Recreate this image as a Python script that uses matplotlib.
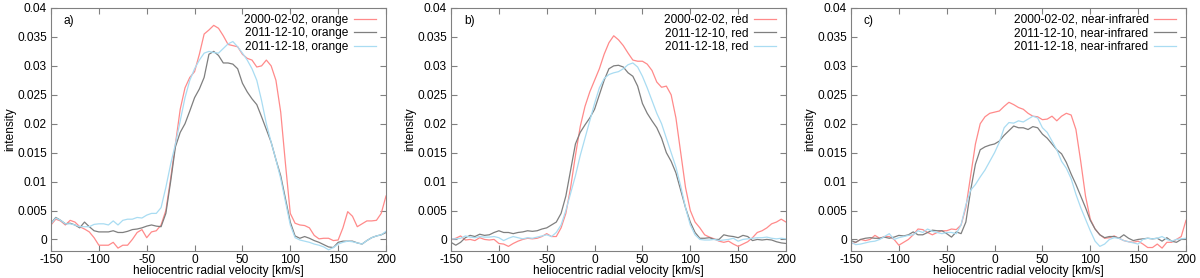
import numpy as np
import matplotlib
matplotlib.use("Agg")
import matplotlib.pyplot as plt

plt.rcParams['font.family'] = ['Liberation Sans', 'DejaVu Sans']

velocity = list(range(-150, 201, 5))

# Panel a: orange
a_2000 = [0.0025, 0.0035, 0.0032, 0.0025, 0.0033, 0.0030, 0.0022, 0.0018, 0.0013, 0.0003, -0.0010, -0.0010, -0.0010, -0.0005,
          -0.0015, -0.0010, -0.0010, 0.0000, 0.0012, 0.0017, 0.0003, 0.0013, 0.0015, 0.0025, 0.0050, 0.0105, 0.0165, 0.0225,
          0.0262, 0.0280, 0.0290, 0.0320, 0.0355, 0.0362, 0.0370, 0.0365, 0.0352, 0.0337, 0.0335, 0.0333, 0.0320, 0.0313,
          0.0310, 0.0298, 0.0300, 0.0310, 0.0300, 0.0275, 0.0220, 0.0130, 0.0045, 0.0028, 0.0025, 0.0024, 0.0020, 0.0007,
          0.0001, 0.0002, 0.0002, -0.0002, -0.0001, 0.0020, 0.0048, 0.0040, 0.0022, 0.0027, 0.0032, 0.0032, 0.0033, 0.0045, 0.0075]
a_1210 = [0.0028, 0.0038, 0.0033, 0.0027, 0.0028, 0.0025, 0.0020, 0.0030, 0.0022, 0.0015, 0.0013, 0.0013, 0.0013, 0.0015,
          0.0012, 0.0012, 0.0014, 0.0017, 0.0018, 0.0020, 0.0023, 0.0025, 0.0023, 0.0022, 0.0045, 0.0100, 0.0160, 0.0185,
          0.0200, 0.0222, 0.0245, 0.0260, 0.0280, 0.0320, 0.0325, 0.0318, 0.0305, 0.0305, 0.0303, 0.0295, 0.0270, 0.0255,
          0.0243, 0.0233, 0.0212, 0.0190, 0.0168, 0.0138, 0.0110, 0.0070, 0.0030, 0.0006, 0.0002, 0.0005, 0.0002, -0.0002,
          -0.0005, -0.0009, -0.0013, -0.0014, -0.0005, -0.0003, -0.0003, -0.0003, -0.0006, -0.0008, -0.0002, 0.0003, 0.0006, 0.0008, 0.0012]
a_1218 = [0.0027, 0.0037, 0.0033, 0.0027, 0.0027, 0.0025, 0.0022, 0.0022, 0.0022, 0.0026, 0.0027, 0.0027, 0.0025, 0.0032,
          0.0025, 0.0033, 0.0035, 0.0035, 0.0038, 0.0037, 0.0042, 0.0045, 0.0045, 0.0055, 0.0090, 0.0130, 0.0165, 0.0205,
          0.0245, 0.0275, 0.0295, 0.0310, 0.0322, 0.0325, 0.0323, 0.0322, 0.0330, 0.0338, 0.0342, 0.0333, 0.0322, 0.0310,
          0.0295, 0.0275, 0.0240, 0.0200, 0.0168, 0.0138, 0.0105, 0.0065, 0.0025, 0.0003, -0.0001, -0.0003, -0.0005, -0.0008,
          -0.0010, -0.0013, -0.0018, -0.0014, -0.0008, -0.0005, -0.0003, -0.0004, -0.0006, -0.0008, -0.0002, 0.0003, 0.0006, 0.0008, 0.0014]

# Panel b: red
b_2000 = [0.0000, 0.0002, 0.0006, -0.0001, 0.0000, -0.0002, 0.0003, 0.0000, -0.0001, 0.0000, -0.0007, -0.0008, -0.0012, -0.0007,
          -0.0003, 0.0000, 0.0002, 0.0001, 0.0002, 0.0005, 0.0010, 0.0005, 0.0005, 0.0020, 0.0045, 0.0090, 0.0145, 0.0195,
          0.0230, 0.0255, 0.0275, 0.0295, 0.0320, 0.0340, 0.0352, 0.0345, 0.0335, 0.0322, 0.0310, 0.0308, 0.0308, 0.0303,
          0.0292, 0.0272, 0.0263, 0.0265, 0.0250, 0.0210, 0.0150, 0.0090, 0.0050, 0.0030, 0.0020, 0.0008, 0.0004, 0.0001,
          -0.0003, -0.0005, -0.0003, -0.0008, -0.0012, -0.0008, -0.0004, 0.0003, 0.0012, 0.0015, 0.0020, 0.0027, 0.0030, 0.0035, 0.0030]
b_1210 = [-0.0005, -0.0010, -0.0005, 0.0003, 0.0007, 0.0005, 0.0009, 0.0007, 0.0008, 0.0012, 0.0015, 0.0012, 0.0012, 0.0010,
          0.0012, 0.0013, 0.0015, 0.0014, 0.0015, 0.0018, 0.0020, 0.0025, 0.0030, 0.0045, 0.0075, 0.0120, 0.0165, 0.0185,
          0.0198, 0.0210, 0.0225, 0.0250, 0.0275, 0.0295, 0.0300, 0.0301, 0.0298, 0.0288, 0.0282, 0.0265, 0.0235, 0.0218,
          0.0205, 0.0193, 0.0175, 0.0150, 0.0135, 0.0115, 0.0085, 0.0055, 0.0030, 0.0012, 0.0002, 0.0002, 0.0003, 0.0000,
          0.0000, 0.0008, 0.0006, 0.0005, 0.0003, 0.0007, 0.0005, -0.0002, 0.0000, -0.0001, 0.0000, -0.0001, -0.0004, -0.0006, -0.0007]
b_1218 = [0.0001, 0.0001, 0.0002, 0.0006, 0.0004, 0.0003, 0.0005, 0.0004, 0.0004, 0.0005, 0.0003, -0.0002, 0.0002, 0.0005,
          0.0003, 0.0001, 0.0003, 0.0002, 0.0004, 0.0006, 0.0008, 0.0005, 0.0012, 0.0025, 0.0050, 0.0080, 0.0110, 0.0145,
          0.0175, 0.0205, 0.0235, 0.0262, 0.0278, 0.0285, 0.0288, 0.0290, 0.0295, 0.0302, 0.0305, 0.0298, 0.0282, 0.0262,
          0.0240, 0.0218, 0.0200, 0.0175, 0.0150, 0.0125, 0.0092, 0.0055, 0.0025, 0.0008, 0.0000, -0.0001, -0.0001, 0.0000,
          -0.0002, -0.0001, 0.0000, 0.0002, -0.0003, 0.0000, 0.0001, 0.0002, 0.0003, 0.0003, 0.0004, 0.0002, 0.0001, 0.0002, 0.0001]

# Panel c: near-infrared
c_2000 = [-0.0008, -0.0005, 0.0000, -0.0002, 0.0000, 0.0007, 0.0002, 0.0005, 0.0005, 0.0000, -0.0010, -0.0005, 0.0000, 0.0008,
          0.0018, 0.0017, 0.0012, 0.0008, 0.0012, 0.0015, 0.0015, 0.0018, 0.0017, 0.0025, 0.0055, 0.0110, 0.0165, 0.0200,
          0.0212, 0.0218, 0.0220, 0.0222, 0.0230, 0.0237, 0.0233, 0.0228, 0.0225, 0.0218, 0.0213, 0.0212, 0.0207, 0.0208,
          0.0213, 0.0205, 0.0213, 0.0218, 0.0215, 0.0190, 0.0135, 0.0075, 0.0035, 0.0018, 0.0008, 0.0002, 0.0003, 0.0006,
          0.0002, -0.0002, -0.0004, -0.0005, -0.0003, -0.0008, -0.0014, -0.0014, -0.0008, -0.0015, -0.0005, -0.0005, 0.0000, 0.0005, 0.0033]
c_1210 = [-0.0002, -0.0005, 0.0000, 0.0002, 0.0003, 0.0002, 0.0002, 0.0004, 0.0002, 0.0004, 0.0007, 0.0006, 0.0008, 0.0013,
          0.0008, 0.0008, 0.0012, 0.0016, 0.0015, 0.0015, 0.0010, 0.0004, 0.0013, 0.0010, 0.0030, 0.0085, 0.0130, 0.0155,
          0.0160, 0.0163, 0.0165, 0.0170, 0.0180, 0.0188, 0.0196, 0.0193, 0.0193, 0.0190, 0.0195, 0.0193, 0.0182, 0.0175,
          0.0165, 0.0155, 0.0148, 0.0133, 0.0113, 0.0095, 0.0075, 0.0055, 0.0033, 0.0018, 0.0008, 0.0003, 0.0005, 0.0005,
          0.0002, 0.0008, 0.0002, -0.0002, 0.0000, 0.0001, 0.0002, 0.0001, 0.0002, -0.0003, 0.0003, -0.0003, -0.0005, 0.0000, 0.0001]
c_1218 = [-0.0005, -0.0009, -0.0008, -0.0006, -0.0004, -0.0003, 0.0000, 0.0005, 0.0010, 0.0000, 0.0003, 0.0005, 0.0007, 0.0008,
          0.0015, 0.0012, 0.0018, 0.0014, 0.0012, 0.0010, 0.0012, 0.0012, 0.0010, 0.0025, 0.0060, 0.0085, 0.0095, 0.0108,
          0.0120, 0.0135, 0.0150, 0.0168, 0.0193, 0.0202, 0.0201, 0.0205, 0.0203, 0.0208, 0.0213, 0.0210, 0.0193, 0.0185,
          0.0170, 0.0155, 0.0135, 0.0123, 0.0105, 0.0078, 0.0055, 0.0035, 0.0015, -0.0003, -0.0012, -0.0008, 0.0000, 0.0003,
          0.0002, -0.0002, -0.0004, -0.0006, -0.0008, 0.0000, 0.0002, 0.0001, 0.0002, 0.0005, 0.0000, -0.0003, 0.0000, 0.0001, 0.0002]

dates = ["2000-02-02", "2011-12-10", "2011-12-18"]
bands = ["orange", "red", "near-infrared"]
panel_labels = ["a)", "b)", "c)"]
panels = [[a_2000, a_1210, a_1218], [b_2000, b_1210, b_1218], [c_2000, c_1210, c_1218]]
colors = ["#ff8a8a", "#7f7f7f", "#a9dcf2"]

x_ticks = [-150, -100, -50, 0, 50, 100, 150, 200]
y_ticks = [0, 0.005, 0.01, 0.015, 0.02, 0.025, 0.03, 0.035, 0.04]
y_ticklabels = ["0", "0.005", "0.01", "0.015", "0.02", "0.025", "0.03", "0.035", "0.04"]

fig = plt.figure(figsize=(12, 2.78), dpi=100)
lefts = [51 / 1200, 451 / 1200, 851 / 1200]
Wpx, Hpx = 335, 243
W = Wpx / 1200
B = 27 / 278
H = Hpx / 278
fs = 8.6
frame_col = "#808080"

for i in range(3):
    ax = fig.add_axes([lefts[i], B, W, H])
    for j in range(3):
        ax.plot(velocity, panels[i][j], color=colors[j], lw=0.9,
                label=f"{dates[j]}, {bands[i]}")
    ax.set_xlim(-150, 200)
    ax.set_ylim(-0.002, 0.04)
    ax.set_xticks(x_ticks)
    ax.set_xticklabels([str(t) for t in x_ticks], fontsize=fs)
    ax.set_yticks(y_ticks)
    ax.set_yticklabels(y_ticklabels, fontsize=fs)
    ax.tick_params(direction="in", length=4, width=0.8, color=frame_col,
                   top=True, right=True)
    ax.tick_params(axis="x", pad=2)
    ax.tick_params(axis="y", pad=3)
    for s in ax.spines.values():
        s.set_color(frame_col)
        s.set_linewidth(0.8)
    ax.set_xlabel("heliocentric radial velocity [km/s]", fontsize=fs)
    ax.xaxis.set_label_coords(0.5, -(271 - 251) / Hpx)
    ax.xaxis.label.set_va("center")
    ax.set_ylabel("intensity", fontsize=fs)
    ax.yaxis.set_label_coords(-(51 - 10) / Wpx, 0.5)
    ax.yaxis.label.set_va("center")
    ax.text(13 / Wpx, 1 - 13.4 / Hpx, panel_labels[i], transform=ax.transAxes, fontsize=fs,
            ha="left", va="center")
    leg = ax.legend(loc="upper right", bbox_to_anchor=(1 - 10 / Wpx, 1 - 6 / Hpx),
                    frameon=False, markerfirst=False, fontsize=fs,
                    handlelength=1.85, handletextpad=0.45, labelspacing=0.12,
                    borderaxespad=0, borderpad=0)
    leg._legend_box.align = "right"
    for t in leg.get_texts():
        t.set_ha("right")

fig.savefig("out.png", dpi=100)
